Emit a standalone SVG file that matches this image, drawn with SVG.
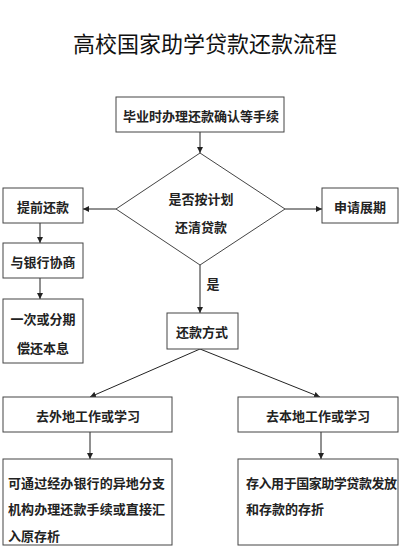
<svg xmlns="http://www.w3.org/2000/svg" width="408" height="547" viewBox="0 0 408 547">
<style>
.box{fill:#fff;stroke:#444;stroke-width:1}
.t{font-family:"Noto Sans CJK SC","Noto Sans",sans-serif;font-size:13px;font-weight:bold;fill:#222;text-anchor:middle;dominant-baseline:central}
.tl{font-family:"Noto Sans CJK SC","Noto Sans",sans-serif;font-size:13px;font-weight:bold;fill:#222;dominant-baseline:central}
.title{font-family:"Noto Sans CJK SC","Noto Sans",sans-serif;font-size:22px;fill:#111;text-anchor:middle}
.c{fill:none;stroke:#222;stroke-width:1;marker-end:url(#ah)}
</style>
<defs>
<marker id="ah" viewBox="0 0 8 8" refX="8" refY="4" markerWidth="6" markerHeight="6" orient="auto" markerUnits="userSpaceOnUse">
<path d="M0,0 L8,4 L0,8 z" fill="#222"/>
</marker>
</defs>
<rect width="408" height="547" fill="#fff"/>
<text class="title" x="205" y="52">高校国家助学贷款还款流程</text>
<g id="connectors">
<line class="c" x1="200" y1="132" x2="200" y2="153"/>
<line class="c" x1="116" y1="209" x2="83" y2="209"/>
<line class="c" x1="285" y1="209" x2="322" y2="209"/>
<line class="c" x1="40" y1="223" x2="40" y2="243"/>
<line class="c" x1="40" y1="278" x2="40" y2="299"/>
<line class="c" x1="200" y1="265" x2="200" y2="313"/>
<line class="c" x1="200" y1="349" x2="90" y2="397"/>
<line class="c" x1="200" y1="349" x2="320" y2="397"/>
<line class="c" x1="90" y1="432" x2="90" y2="459"/>
<line class="c" x1="321" y1="432" x2="321" y2="459"/>
<text class="t" x="213" y="283">是</text>
</g>
<g id="n1"><rect class="box" x="116" y="97" width="168" height="35"/><text class="t" x="201" y="115">毕业时办理还款确认等手续</text></g>
<g id="n2"><polygon class="box" points="200,153 285,209 200,265 116,209"/><text class="t" x="201" y="198">是否按计划</text><text class="t" x="201" y="226">还清贷款</text></g>
<g id="n3"><rect class="box" x="3" y="188" width="80" height="35"/><text class="t" x="43" y="206">提前还款</text></g>
<g id="n4"><rect class="box" x="322" y="188" width="76" height="35"/><text class="t" x="360" y="206">申请展期</text></g>
<g id="n5"><rect class="box" x="3" y="243" width="80" height="35"/><text class="t" x="43" y="261">与银行协商</text></g>
<g id="n6"><rect class="box" x="3" y="299" width="80" height="64"/><text class="t" x="43" y="318">一次或分期</text><text class="t" x="43" y="347">偿还本息</text></g>
<g id="n7"><rect class="box" x="167" y="313" width="71" height="36"/><text class="t" x="202" y="331">还款方式</text></g>
<g id="n8"><rect class="box" x="3" y="397" width="169" height="35"/><text class="t" x="88" y="415">去外地工作或学习</text></g>
<g id="n9"><rect class="box" x="238" y="397" width="160" height="35"/><text class="t" x="318" y="415">去本地工作或学习</text></g>
<g id="n10"><rect class="box" x="3" y="459" width="169" height="86"/><text class="tl" x="8" y="482" textLength="157">可通过经办银行的异地分支</text><text class="tl" x="8" y="508" textLength="157">机构办理还款手续或直接汇</text><text class="tl" x="8" y="535">入原存析</text></g>
<g id="n11"><rect class="box" x="238" y="459" width="160" height="86"/><text class="tl" x="246" y="482" textLength="151">存入用于国家助学贷款发放</text><text class="tl" x="246" y="508">和存款的存折</text></g>
</svg>
